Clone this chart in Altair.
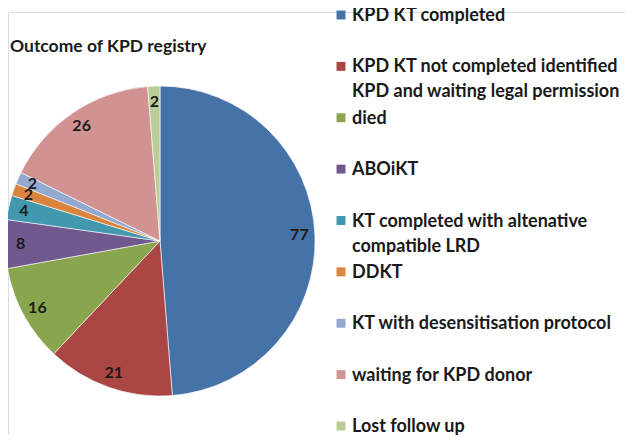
import altair as alt
import pandas as pd

categories = [
    "KPD KT completed",
    "KPD KT not completed identified KPD and waiting legal permission",
    "died",
    "ABOiKT",
    "KT completed with altenative compatible LRD",
    "DDKT",
    "KT with desensitisation protocol",
    "waiting for KPD donor",
    "Lost follow up",
]
legend_labels = [
    "KPD KT completed",
    "KPD KT not completed identified\nKPD and waiting legal permission",
    "died",
    "ABOiKT",
    "KT completed with altenative\ncompatible LRD",
    "DDKT",
    "KT with desensitisation protocol",
    "waiting for KPD donor",
    "Lost follow up",
]
values = [77, 21, 16, 8, 4, 2, 2, 26, 2]
colors = ["#4572A7", "#AA4643", "#89A54E", "#71588F", "#4198AF",
          "#DB843D", "#93A9CF", "#D19392", "#B9CD96"]

df = pd.DataFrame({
    "cat": categories,
    "legend": legend_labels,
    "value": values,
    "order": list(range(len(categories))),
})

FONT = "Lato"
PT = 4  # top padding
W, H = 617, 427 - PT
CX, CY, R = 152, 233 - PT, 155

color_scale = alt.Scale(domain=categories, range=colors)

base = alt.Chart(df)

pie = base.mark_arc(stroke="white", strokeWidth=0.6).encode(
    theta=alt.Theta("value:Q", stack=True),
    order=alt.Order("order:Q"),
    color=alt.Color("cat:N", scale=color_scale, legend=None),
    x=alt.value(CX),
    y=alt.value(CY),
    radius=alt.value(R),
)

labels = base.mark_text(font=FONT, fontWeight="bold", fontSize=16, color="#1a1a1a").encode(
    theta=alt.Theta("value:Q", stack=True),
    order=alt.Order("order:Q"),
    text=alt.Text("value:Q"),
    x=alt.value(CX),
    y=alt.value(CY),
    radius=alt.value(R * 0.9),
)

leg_y = alt.Y("cat:N", scale=alt.Scale(type="point", domain=categories,
                                       range=[7 - PT, 418 - PT], padding=0), axis=None)

leg_sym = base.mark_square(size=80, opacity=1).encode(
    y=leg_y,
    x=alt.value(333),
    color=alt.Color("cat:N", scale=color_scale, legend=None),
)

leg_txt = base.mark_text(font=FONT, fontWeight="bold", fontSize=18, color="#1a1a1a",
                         align="left", baseline="top", dy=-8, lineHeight=25, lineBreak="\n").encode(
    y=leg_y,
    x=alt.value(344),
    text="legend:N",
)

title = alt.Chart(pd.DataFrame({"t": ["Outcome of KPD registry"]})).mark_text(
    font=FONT, fontWeight="bold", fontSize=17.5, color="#1a1a1a", align="left", baseline="middle"
).encode(text="t:N", x=alt.value(2), y=alt.value(39 - PT))

chart = alt.layer(pie, labels, leg_sym, leg_txt, title).properties(
    width=W, height=H, padding={"top": PT, "left": 0, "right": 0, "bottom": 0},
    autosize=alt.AutoSizeParams(type="none")
).configure_view(stroke=None).configure(background="white")

chart.save("out.html", embed_options={"renderer": "svg", "actions": False})
